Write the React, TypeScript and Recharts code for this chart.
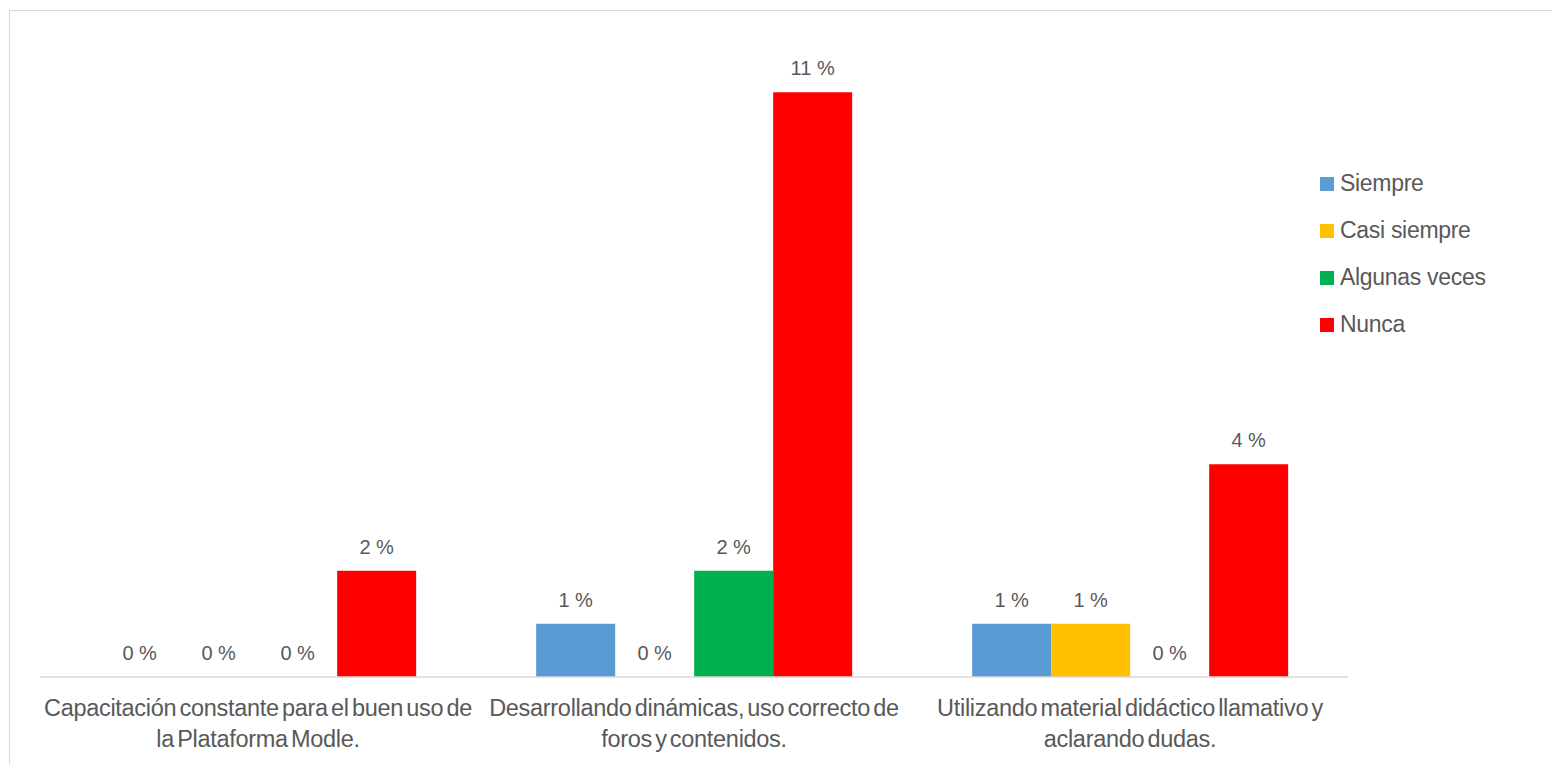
import React from 'react';
import { BarChart, Bar, XAxis, YAxis, LabelList } from 'recharts';

const categories = [
  'Capacitación constante para el buen uso de\nla Plataforma Modle.',
  'Desarrollando dinámicas, uso correcto de\nforos y contenidos.',
  'Utilizando material didáctico llamativo y\naclarando dudas.',
];
const siempre = [0, 1, 1];
const casiSiempre = [0, 0, 1];
const algunasVeces = [0, 2, 0];
const nunca = [2, 11, 4];

const SERIES = [
  { key: 'siempre', name: 'Siempre', color: '#5b9bd5' },
  { key: 'casiSiempre', name: 'Casi siempre', color: '#ffc000' },
  { key: 'algunasVeces', name: 'Algunas veces', color: '#00b050' },
  { key: 'nunca', name: 'Nunca', color: '#ff0000' },
];

const data = categories.map((name, i) => ({
  name,
  siempre: siempre[i],
  casiSiempre: casiSiempre[i],
  algunasVeces: algunasVeces[i],
  nunca: nunca[i],
}));

const FONT = '"Liberation Sans", Arial, sans-serif';
const TEXT = '#595959';

const CategoryTick = (props: any) => {
  const { x, y, payload } = props;
  const lines = String(payload.value).split('\n');
  return (
    <text x={x} y={y} textAnchor="middle" fill={TEXT} fontSize={23.5} fontFamily={FONT} wordSpacing={-3} letterSpacing={-0.3}>
      {lines.map((l, i) => (
        <tspan key={i} x={x} dy={i === 0 ? 31 : 31}>{l}</tspan>
      ))}
    </text>
  );
};

const App = () => {
  return (
    <div style={{ position: 'fixed', left: 0, top: 0, width: 1552, height: 764, overflow: 'hidden', background: '#fff' }}>
      <div style={{ position: 'absolute', left: 9, top: 10, width: 1700, height: 900, border: '1.5px solid #d9d9d9' }} />
      <div style={{ position: 'absolute', left: 0, top: 0 }}>
        <BarChart
          width={1552}
          height={764}
          data={data}
          margin={{ top: 39, right: 204, bottom: 0, left: 40 }}
          barCategoryGap="13.8%"
          barGap={0}
        >
          <XAxis
            dataKey="name"
            height={87}
            axisLine={{ stroke: '#d9d9d9', strokeWidth: 1.5 }}
            tickLine={false}
            tick={<CategoryTick />}
            interval={0}
          />
          <YAxis hide domain={[0, 12]} />
          {SERIES.map(s => (
            <Bar key={s.key} dataKey={s.key} name={s.name} fill={s.color} minPointSize={0.01} isAnimationActive={false}>
              <LabelList
                dataKey={s.key}
                position="top"
                offset={17}
                formatter={(v: any) => `${v} %`}
                style={{ fill: TEXT, fontSize: 20, fontFamily: FONT }}
              />
            </Bar>
          ))}
        </BarChart>
      </div>
      <div style={{ position: 'absolute', left: 1320, top: 160, fontFamily: FONT, fontSize: 23, color: TEXT }}>
        {SERIES.map(s => (
          <div key={s.key} style={{ display: 'flex', alignItems: 'center', height: 47 }}>
            <span style={{ display: 'inline-block', width: 14, height: 14, background: s.color, marginRight: 6 }} />
            <span style={{ letterSpacing: -0.3 }}>{s.name}</span>
          </div>
        ))}
      </div>
    </div>
  );
};

export default App;
